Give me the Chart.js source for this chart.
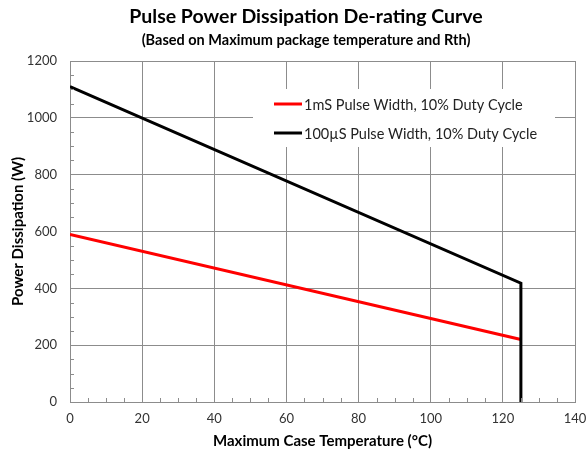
<!DOCTYPE html>
<html lang="en">
    <head>
        <meta charset="UTF-8">
        <title>Pulse Power Dissipation De-rating Curve</title>
        <style>
            body { margin: 0; background: #fff; }
        </style>
    </head>

    <script src="https://cdn.jsdelivr.net/npm/chart.js"></script>

    <body>
        <canvas id="myChart" width="587" height="458"></canvas>
    </body>

    <script>
        // Data
        const temperature = [0, 125, 125];
        const pulse1ms = [590, 220, null];   // hidden under the black drop at 125
        const pulse100us = [1110, 418, 0];
        const seriesLabels = ["1mS Pulse Width, 10% Duty Cycle", "100µS Pulse Width, 10% Duty Cycle"];
        const xTicks = [0, 20, 40, 60, 80, 100, 120, 140];
        const yTicks = [0, 200, 400, 600, 800, 1000, 1200];

        const FONT = "Lato, 'Open Sans', sans-serif";
        const GRID = "#8c8c8c";

        function toPoints(xs, ys) {
            return xs.map((x, i) => ({ x: x, y: ys[i] }));
        }

        // small inward ticks between the major gridlines
        const minorTicks = {
            id: 'minorTicks',
            afterDraw(chart) {
                const ctx = chart.ctx;
                const x = chart.scales.x, y = chart.scales.y;
                ctx.save();
                ctx.strokeStyle = GRID;
                ctx.lineWidth = 1;
                ctx.beginPath();
                for (let v = 5; v < 140; v += 5) {
                    if (v % 20 === 0) continue;
                    const px = Math.round(x.getPixelForValue(v)) + 0.5;
                    ctx.moveTo(px, y.bottom);
                    ctx.lineTo(px, y.bottom - 4);
                }
                for (let v = 50; v < 1200; v += 50) {
                    if (v % 200 === 0) continue;
                    const py = Math.round(y.getPixelForValue(v)) + 0.5;
                    ctx.moveTo(x.left, py);
                    ctx.lineTo(x.left + 4, py);
                }
                ctx.stroke();
                ctx.restore();
            }
        };

        // titles in the reference sit a bit right of the canvas centre
        const shiftTitles = {
            id: 'shiftTitles',
            afterLayout(chart) {
                chart.boxes.forEach(b => {
                    if (!b.axis && b.options && b.options.text) b.left += 37;
                });
            }
        };

        // legend box sitting inside the plot, over the gridlines
        const insideLegend = {
            id: 'insideLegend',
            beforeDatasetsDraw(chart) {
                const ctx = chart.ctx;
                const a = chart.chartArea;
                const bx = a.left + 183, by = a.top + 28;
                ctx.save();
                ctx.fillStyle = "#fff";
                ctx.fillRect(bx, by, 302, 58);
                ctx.font = "14.5px " + FONT;
                ctx.textBaseline = "middle";
                chart.data.datasets.slice().reverse().forEach((ds, i) => {
                    const ly = by + 15 + i * 29;
                    ctx.strokeStyle = ds.borderColor;
                    ctx.lineWidth = 3;
                    ctx.beginPath();
                    ctx.moveTo(bx + 21, ly);
                    ctx.lineTo(bx + 49, ly);
                    ctx.stroke();
                    ctx.fillStyle = "#222";
                    ctx.fillText(ds.label, bx + 51, ly + 1);
                });
                ctx.restore();
            }
        };

        const ctx = document.getElementById('myChart').getContext('2d');
        const myChart = new Chart(ctx, {
            type: 'scatter',
            data: {
                datasets: [{
                    label: seriesLabels[1],
                    data: toPoints(temperature, pulse100us),
                    borderColor: "#000000",
                    backgroundColor: "#000000",
                    borderWidth: 3,
                    showLine: true,
                    pointRadius: 0,
                    order: 0
                }, {
                    label: seriesLabels[0],
                    data: toPoints(temperature, pulse1ms),
                    borderColor: "#ff0000",
                    backgroundColor: "#ff0000",
                    borderWidth: 3,
                    showLine: true,
                    pointRadius: 0,
                    order: 1
                }]
            },
            options: {
                responsive: false,
                animation: false,
                layout: { padding: { left: 0, right: 12, top: 0, bottom: 0 } },
                plugins: {
                    legend: { display: false },
                    tooltip: { enabled: false },
                    title: {
                        display: true,
                        text: "Pulse Power Dissipation De-rating Curve",
                        color: "#000",
                        font: { family: FONT, size: 19.5, weight: 'bold', lineHeight: 1.2 },
                        padding: { top: 5, bottom: 2 }
                    },
                    subtitle: {
                        display: true,
                        text: "(Based on Maximum package temperature and Rth)",
                        color: "#000",
                        font: { family: FONT, size: 14.5, weight: 'bold', lineHeight: 1.2 },
                        padding: { top: 0.9, bottom: 12.3 }
                    }
                },
                scales: {
                    x: {
                        type: 'linear',
                        min: 0,
                        max: 140,
                        afterBuildTicks: s => { s.ticks = xTicks.map(v => ({ value: v })); },
                        afterFit: s => { s.height = 56; s.paddingRight = 0; s.paddingLeft = 0; },
                        grid: { color: GRID, drawTicks: false },
                        border: { color: GRID },
                        ticks: { color: "#333", padding: 9, font: { family: FONT, size: 13 } },
                        title: {
                            display: true,
                            text: "Maximum Case Temperature (°C)",
                            color: "#000",
                            font: { family: FONT, size: 15, weight: 'bold', lineHeight: 1.2 },
                            padding: { top: 0, bottom: 8 }
                        }
                    },
                    y: {
                        type: 'linear',
                        min: 0,
                        max: 1200,
                        afterBuildTicks: s => { s.ticks = yTicks.map(v => ({ value: v })); },
                        afterFit: s => { s.width = 70; },
                        grid: { color: GRID, drawTicks: false },
                        border: { color: GRID },
                        ticks: {
                            color: "#333",
                            padding: 13,
                            font: { family: FONT, size: 13 },
                            callback: v => String(v)
                        },
                        title: {
                            display: true,
                            text: "Power Dissipation (W)",
                            color: "#000",
                            font: { family: FONT, size: 15, weight: 'bold', lineHeight: 1.2 },
                            padding: { top: 9, bottom: 0 }
                        }
                    }
                }
            },
            plugins: [minorTicks, shiftTitles, insideLegend]
        });
    </script>
</html>
